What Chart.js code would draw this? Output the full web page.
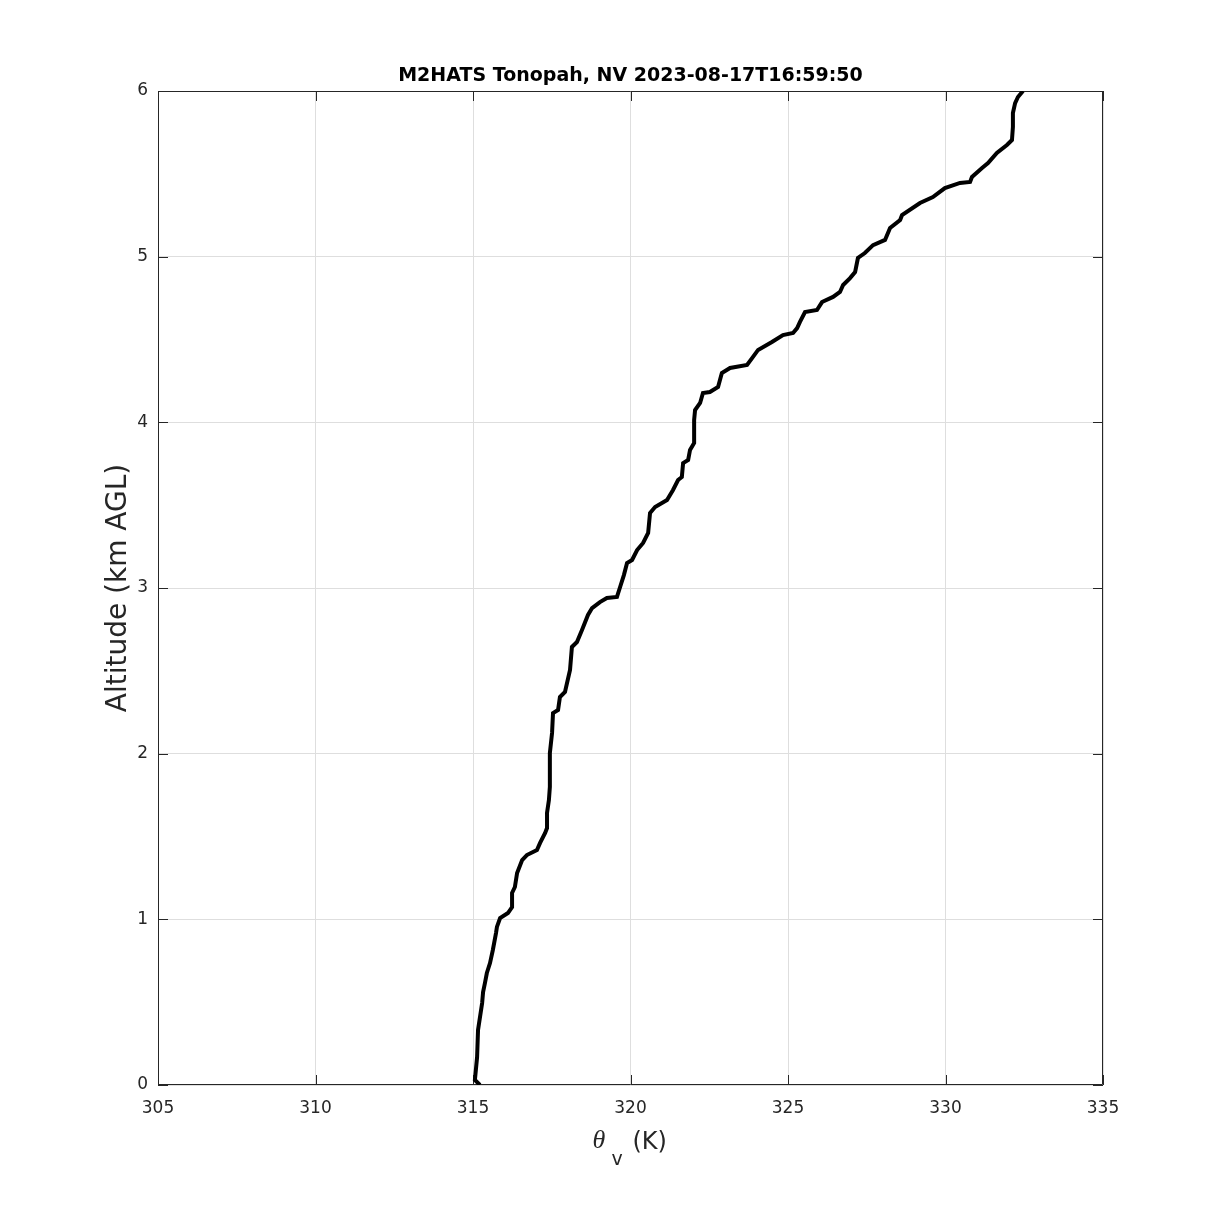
<!DOCTYPE html>
<html>
<head>
<meta charset="utf-8">
<title>M2HATS Tonopah theta-v profile</title>
<script src="https://cdn.jsdelivr.net/npm/chart.js@4/dist/chart.umd.min.js"></script>
<style>
  html, body { margin: 0; padding: 0; background: #ffffff; }
  canvas { display: block; }
</style>
</head>
<body>
<canvas id="profileChart" width="1219" height="1219"></canvas>
<script>
// sounding profile
const thetaV = [
  315.22, 315.06, 315.13, 315.16, 315.29, 315.32, 315.38, 315.44, 315.54, 315.63,
  315.73, 315.76, 315.86, 316.11, 316.24, 316.24, 316.33, 316.40, 316.56, 316.71,
  317.03, 317.13, 317.29, 317.35, 317.35, 317.41, 317.44, 317.44, 317.51, 317.54,
  317.70, 317.76, 317.92, 318.08, 318.14, 318.30, 318.46, 318.65, 318.78, 319.03,
  319.25, 319.57, 319.67, 319.79, 319.89, 320.05, 320.21, 320.40, 320.56, 320.62,
  320.78, 321.16, 321.35, 321.51, 321.63, 321.67, 321.83, 321.89, 322.02, 322.02,
  322.05, 322.21, 322.30, 322.52, 322.78, 322.90, 323.16, 323.70, 323.86, 324.05,
  324.49, 324.84, 325.16, 325.29, 325.38, 325.54, 325.92, 326.08, 326.43, 326.65,
  326.75, 326.97, 327.13, 327.22, 327.44, 327.70, 328.08, 328.24, 328.56, 328.62,
  329.19, 329.60, 329.98, 330.46, 330.78, 330.84, 331.16, 331.35, 331.63, 331.95,
  332.11, 332.14, 332.14, 332.21, 332.30, 332.46
];
const altitudeKm = [
  0.000, 0.030, 0.169, 0.332, 0.495, 0.561, 0.616, 0.676, 0.736, 0.815,
  0.917, 0.954, 1.008, 1.038, 1.074, 1.159, 1.195, 1.280, 1.358, 1.388,
  1.418, 1.461, 1.521, 1.551, 1.642, 1.720, 1.799, 2.004, 2.125, 2.245,
  2.264, 2.342, 2.372, 2.505, 2.644, 2.674, 2.746, 2.837, 2.879, 2.915,
  2.940, 2.946, 3.006, 3.078, 3.151, 3.169, 3.229, 3.272, 3.332, 3.453,
  3.489, 3.531, 3.592, 3.652, 3.670, 3.754, 3.773, 3.833, 3.875, 4.014,
  4.074, 4.117, 4.177, 4.183, 4.213, 4.298, 4.328, 4.346, 4.388, 4.437,
  4.485, 4.527, 4.539, 4.569, 4.606, 4.666, 4.678, 4.726, 4.757, 4.787,
  4.829, 4.871, 4.907, 4.992, 5.022, 5.070, 5.101, 5.173, 5.221, 5.251,
  5.324, 5.360, 5.414, 5.445, 5.451, 5.481, 5.535, 5.565, 5.626, 5.674,
  5.704, 5.783, 5.867, 5.927, 5.964, 6.000
];

const xTicks = [305, 310, 315, 320, 325, 330, 335];
const yTicks = [0, 1, 2, 3, 4, 5, 6];

const titleText = "M2HATS Tonopah, NV 2023-08-17T16:59:50";
const yTitleText = "Altitude (km AGL)";

const AXIS_COLOR = "#262626";
const GRID_COLOR = "#dedede";
const FONT = "'DejaVu Sans', 'Liberation Sans', sans-serif";

const points = thetaV.map((t, i) => ({ x: t, y: altitudeKm[i] }));

// matlab style box with inward ticks, plus title / x label centred on the axes
const boxPlugin = {
  id: "matlabBox",
  beforeDatasetsDraw(chart) {
    const { ctx, chartArea, scales } = chart;
    const l = chartArea.left, r = chartArea.right, t = chartArea.top, b = chartArea.bottom;
    const tl = 10;
    ctx.save();
    ctx.strokeStyle = AXIS_COLOR;
    ctx.lineWidth = 1;
    ctx.beginPath();
    ctx.rect(l + 0.5, t + 0.5, r - l - 1, b - t - 1);
    xTicks.forEach(v => {
      const x = Math.round(scales.x.getPixelForValue(v)) + 0.5;
      ctx.moveTo(x, b); ctx.lineTo(x, b - tl);
      ctx.moveTo(x, t); ctx.lineTo(x, t + tl);
    });
    yTicks.forEach(v => {
      const y = Math.round(scales.y.getPixelForValue(v)) + 0.5;
      ctx.moveTo(l, y); ctx.lineTo(l + tl, y);
      ctx.moveTo(r, y); ctx.lineTo(r - tl, y);
    });
    ctx.stroke();
    ctx.restore();
  },
  afterDraw(chart) {
    const { ctx, chartArea } = chart;
    const cx = (chartArea.left + chartArea.right) / 2;
    ctx.save();
    // title
    ctx.fillStyle = "#000000";
    ctx.textAlign = "center";
    ctx.textBaseline = "alphabetic";
    ctx.font = "bold 19px " + FONT;
    ctx.fillText(titleText, cx, chartArea.top - 10);

    // x label: theta with subscript v, then (K)
    ctx.fillStyle = AXIS_COLOR;
    ctx.textAlign = "left";
    ctx.font = "italic 26px 'Liberation Serif', 'DejaVu Serif', serif";
    ctx.fillText("\u03B8", cx - 38, 1148);
    ctx.font = "19px " + FONT;
    ctx.fillText("v", cx - 19, 1165);
    ctx.font = "24px " + FONT;
    ctx.fillText("(K)", cx + 2, 1149);
    ctx.restore();
  }
};

const ctx = document.getElementById("profileChart").getContext("2d");

new Chart(ctx, {
  type: "scatter",
  data: {
    datasets: [{
      label: "theta_v",
      data: points,
      showLine: true,
      borderColor: "#000000",
      borderWidth: 4,
      pointRadius: 0,
      tension: 0,
      fill: false
    }]
  },
  options: {
    responsive: false,
    animation: false,
    layout: { padding: { top: 91, right: 116, bottom: 0, left: 0 } },
    plugins: {
      legend: { display: false },
      tooltip: { enabled: false },
      title: { display: false }
    },
    scales: {
      x: {
        type: "linear",
        min: 305,
        max: 335,
        afterBuildTicks: s => { s.ticks = xTicks.map(v => ({ value: v })); },
        afterFit: s => { s.height = 134; },
        grid: { color: GRID_COLOR, drawTicks: false },
        border: { display: false },
        ticks: { color: AXIS_COLOR, padding: 13, font: { family: FONT, size: 17 }, maxRotation: 0 }
      },
      y: {
        type: "linear",
        min: 0,
        max: 6,
        afterBuildTicks: s => { s.ticks = yTicks.map(v => ({ value: v })); },
        afterFit: s => { s.width = 158; },
        grid: { color: GRID_COLOR, drawTicks: false },
        border: { display: false },
        ticks: { color: AXIS_COLOR, padding: 10, font: { family: FONT, size: 17 } },
        title: {
          display: true,
          text: yTitleText,
          color: AXIS_COLOR,
          font: { family: FONT, size: 28 },
          padding: { top: 102, bottom: 0 }
        }
      }
    }
  },
  plugins: [boxPlugin]
});
</script>
</body>
</html>
